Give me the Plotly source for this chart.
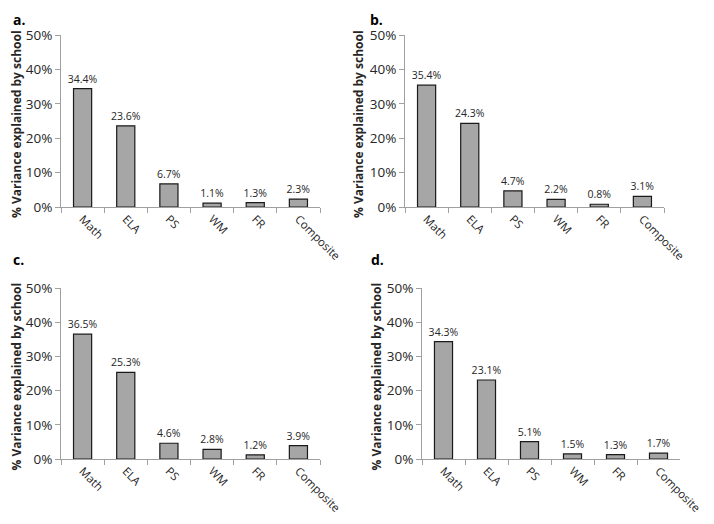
import plotly.graph_objects as go

categories = ["Math", "ELA", "PS", "WM", "FR", "Composite"]
vals_a = [34.4, 23.6, 6.7, 1.1, 1.3, 2.3]
vals_b = [35.4, 24.3, 4.7, 2.2, 0.8, 3.1]
vals_c = [36.5, 25.3, 4.6, 2.8, 1.2, 3.9]
vals_d = [34.3, 23.1, 5.1, 1.5, 1.3, 1.7]
panel_labels = ["a.", "b.", "c.", "d."]
y_title = "% Variance explained by school"
y_ticks = [0, 10, 20, 30, 40, 50]

OFF = 8  # page body margin
W, H = 714 - 2 * OFF, 524 - 2 * OFF


def fx(p):
    return (p - OFF) / W


def fy(p):
    return 1 - (p - OFF) / H


# pixel boxes in the window: (x0, x1, ytop, ybottom)
boxes = [(61, 320, 35, 207), (405, 664, 35, 207), (61, 320, 288, 459), (422, 680, 288, 459)]
title_x = [16, 358, 16, 376]
letter_pos = [(12, 8.5), (369, 8.5), (12, 249), (370, 249)]

FONT = "Open Sans"
fig = go.Figure()
series = [vals_a, vals_b, vals_c, vals_d]
for i, (vals, box) in enumerate(zip(series, boxes)):
    n = "" if i == 0 else str(i + 1)
    fig.add_trace(go.Bar(
        x=categories, y=vals, xaxis="x" + n, yaxis="y" + n,
        marker=dict(color="#a6a6a6", line=dict(color="#1a1a1a", width=1.2)),
        text=[f"{v:.1f}%" for v in vals], textposition="outside",
        constraintext="none",
        textfont=dict(family=FONT, size=10.5, color="#262626"),
        cliponaxis=False, showlegend=False,
    ))
    x0, x1, yt, yb = box
    fig.update_layout(**{
        "xaxis" + n: dict(
            domain=[fx(x0), fx(x1)], anchor="y" + n, type="category",
            tickangle=45, tickson="boundaries", ticks="outside", ticklen=5,
            tickcolor="#a0a0a0", showline=True, linecolor="#a0a0a0", linewidth=1,
            showgrid=False, tickfont=dict(family=FONT, size=11.5, color="#262626"),
            automargin=False, fixedrange=True,
        ),
        "yaxis" + n: dict(
            domain=[fy(yb), fy(yt)], anchor="x" + n, range=[0, 50],
            tickvals=y_ticks, ticktext=[f"{t}%" for t in y_ticks],
            ticks="outside", ticklen=5, tickcolor="#a0a0a0",
            showline=True, linecolor="#a0a0a0", linewidth=1, showgrid=False,
            zeroline=False, automargin=False,
            tickfont=dict(family=FONT, size=13.5, color="#262626"),
        ),
    })
    fig.add_annotation(
        x=fx(title_x[i]), y=fy((yt + yb) / 2 + 3), xref="paper", yref="paper",
        text="<b>" + y_title + "</b>", textangle=-90, showarrow=False, borderpad=0,
        font=dict(family=FONT, size=12, color="#262626"), xanchor="center", yanchor="middle",
    )
    lx, ly = letter_pos[i]
    fig.add_annotation(
        x=fx(lx), y=fy(ly), xref="paper", yref="paper",
        text="<b>" + panel_labels[i] + "</b>", showarrow=False, borderpad=0,
        font=dict(family=FONT, size=14, color="#000000"), xanchor="left", yanchor="top",
    )

fig.update_layout(
    width=W, height=H, margin=dict(l=0, r=0, t=0, b=0, autoexpand=False),
    paper_bgcolor="white", plot_bgcolor="white", bargap=0.58,
)
fig.write_html("out.html")
